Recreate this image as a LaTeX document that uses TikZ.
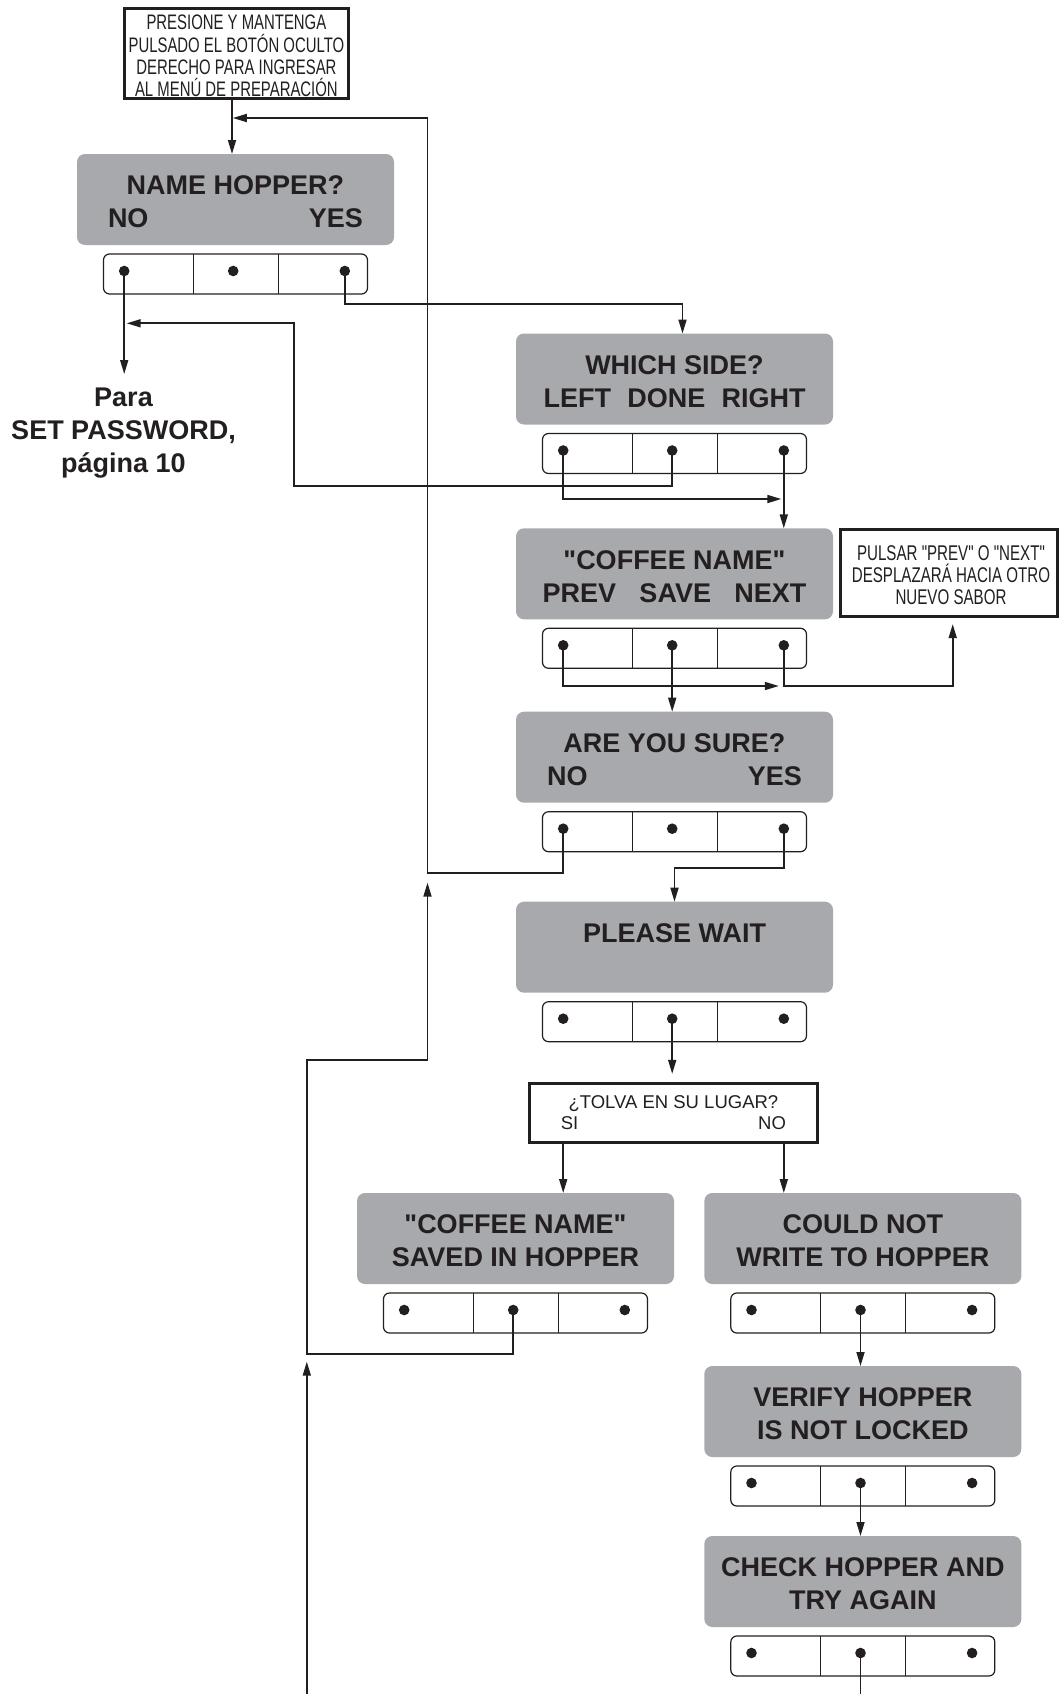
\documentclass[tikz,border=0pt]{standalone}
\usepackage{fontspec}
\setmainfont{Liberation Sans}[Ligatures=TeXOff]
\newfontfamily\condfont[FakeStretch=0.71,Ligatures=TeXOff]{Liberation Sans}
\usetikzlibrary{calc,arrows.meta}
\definecolor{ink}{HTML}{231F20}
\definecolor{panelgray}{HTML}{A7A9AC}
\newcommand{\panelbox}[4]{%
  \node[graybox, anchor=north west] (#1) at (#2,#3) {};
  \node[ptext] (#1t) at ($(#1.center)+(0,2.5)$) {#4};
  \node[btnbox, anchor=north west] (#1b) at ($(#1.south west)+(26.5,9)$) {};
  \draw[divline] ($(#1b.north west)+(90,0)$) -- ($(#1b.south west)+(90,0)$);
  \draw[divline] ($(#1b.north west)+(175,0)$) -- ($(#1b.south west)+(175,0)$);
  \coordinate (#1L) at ($(#1b.north west)+(20.7,17)$);
  \coordinate (#1M) at ($(#1b.north west)+(129.7,17)$);
  \coordinate (#1R) at ($(#1b.north west)+(241.3,17)$);
  \foreach \d in {L,M,R} {\fill[ink] (#1\d) circle (5.3pt);}
}
\begin{document}
\begin{tikzpicture}[x=1pt,y=-1pt,
  graybox/.style={rectangle, rounded corners=8pt, fill=panelgray, draw=none, minimum width=317pt, minimum height=91pt, inner sep=0pt, outer sep=0pt},
  ptext/.style={align=center, inner sep=0pt, text=ink, font=\fontsize{27}{33}\selectfont\bfseries},
  btnbox/.style={rectangle, rounded corners=6pt, draw=ink, line width=1.2pt, fill=white, minimum width=264pt, minimum height=40pt, inner sep=0pt, outer sep=0pt},
  divline/.style={draw=ink, line width=1.2pt},
  notebox/.style={rectangle, draw=ink, line width=3pt, fill=white, inner sep=0pt},
  notetext/.style={align=center, inner sep=0pt, text=ink},
  conn/.style={draw=ink, line width=1.7pt},
  arr/.style={conn, -{Triangle[length=14pt,width=8pt]}},
]
\useasboundingbox (0,0) rectangle (1059,1694);
\fill[white] (0,0) rectangle (1059,1694);

% notes
\node[notebox, minimum width=224pt, minimum height=90pt] (note1) at (236.4,53.3) {};
\node[notetext, font=\condfont\fontsize{21}{22.3}\selectfont] (note1t) at ($(note1.center)+(0,2.8)$)
  {PRESIONE Y MANTENGA\\PULSADO EL BOTÓN OCULTO\\DERECHO PARA INGRESAR\\AL MENÚ DE PREPARACIÓN};
\node[notebox, minimum width=216.7pt, minimum height=86.9pt] (note2) at (949.2,573.2) {};
\node[notetext, font=\condfont\fontsize{21.3}{22}\selectfont] (note2t) at ($(note2.center)+(1.8,1.8)$)
  {PULSAR "PREV" O "NEXT"\\DESPLAZARÁ HACIA OTRO\\NUEVO SABOR};

% panels
\panelbox{P1}{77}{154}{NAME HOPPER?\\\makebox[255pt]{NO\hfill YES}}
\panelbox{P2}{516}{333.5}{WHICH SIDE?\\\makebox[262pt]{LEFT\hfill DONE\hfill RIGHT}}
\panelbox{P3}{516}{528.3}{"COFFEE NAME"\\\makebox[264pt]{PREV\hfill SAVE\hfill NEXT}}
\panelbox{P4}{516}{711.7}{ARE YOU SURE?\\\makebox[255pt]{NO\hfill YES}}
\panelbox{P5}{516}{901.7}{PLEASE WAIT\\\mbox{}}
\panelbox{P6}{357}{1193}{"COFFEE NAME"\\SAVED IN HOPPER}
\panelbox{P7}{704.3}{1193}{COULD NOT\\WRITE TO HOPPER}
\panelbox{P8}{704.3}{1366}{VERIFY HOPPER\\IS NOT LOCKED}
\panelbox{P9}{704.3}{1536}{CHECK HOPPER AND\\TRY AGAIN}

\node[notebox, minimum width=287.2pt, minimum height=59.1pt] (tolva) at (673.4,1112.9) {};
\node[notetext, font=\fontsize{18.5}{21.3}\selectfont] (tolvat) at (tolva.center)
  {¿TOLVA EN SU LUGAR?\\\makebox[225pt]{SI\hfill NO}};

\node[ptext, anchor=north] (para) at (123.5,388) {Para\\SET PASSWORD,\\página 10};

% helper coordinates
\coordinate (xA) at (232,0);
\coordinate (loopBot) at (427.5,872.7);
\coordinate (loopTop) at (427.5,118);
\coordinate (c1) at (682.5,304);
\coordinate (d1) at (294,485.7);
\coordinate (d2) at (294,323.3);
\coordinate (f1) at (0,499);
\coordinate (h1) at (0,686);
\coordinate (j1) at (952.7,686);
\coordinate (k1) at (674.5,868.3);
\coordinate (n1) at (306.8,1354);
\coordinate (n2) at (306.8,1060);
\coordinate (nTip) at (427.5,882.7);
\coordinate (o1) at (306.8,1694);
\coordinate (oTip) at (306.8,1361.7);

% connectors
\draw[arr] (note1.south -| xA) -- (P1.north -| xA);
\draw[arr, shorten >=0.8pt] (P4L) |- (loopBot) -- (loopTop) -- (loopTop -| xA);
\draw[arr] (P1R) |- (c1) -- (c1 |- P2.north);
\draw[arr, shorten >=2.5pt] (P2M) |- (d1) -- (d2) -- (d2 -| P1L);
\draw[arr, shorten >=14pt] (P1L) -- (P1L |- para.north);
\draw[arr, shorten >=2.5pt] (P2L) |- (P2R |- f1);
\draw[arr] (P2R) -- (P2R |- P3.north);
\draw[arr, shorten >=5pt] (P3L) |- (P3R |- h1);
\draw[arr] (P3M) -- (P3M |- P4.north);
\draw[arr, shorten >=6pt] (P3R) |- (j1) -- (j1 |- note2.south);
\draw[arr] (P4R) |- (k1) -- (k1 |- P5.north);
\draw[arr, shorten >=8pt] (P5M) -- (P5M |- tolva.north);
\draw[arr] (tolva.south -| P5L) -- (P6.north -| P5L);
\draw[arr] (tolva.south -| P5R) -- (P7.north -| P5R);
\draw[arr] (P6M) |- (n1) -- (n2) -- (n2 -| nTip) -- (nTip);
\draw[arr] (o1) -- (oTip);
\draw[arr] (P7M) -- (P7M |- P8.north);
\draw[arr] (P8M) -- (P8M |- P9.north);
\draw[conn] (P9M) -- (P9M |- o1);
\end{tikzpicture}
\end{document}
